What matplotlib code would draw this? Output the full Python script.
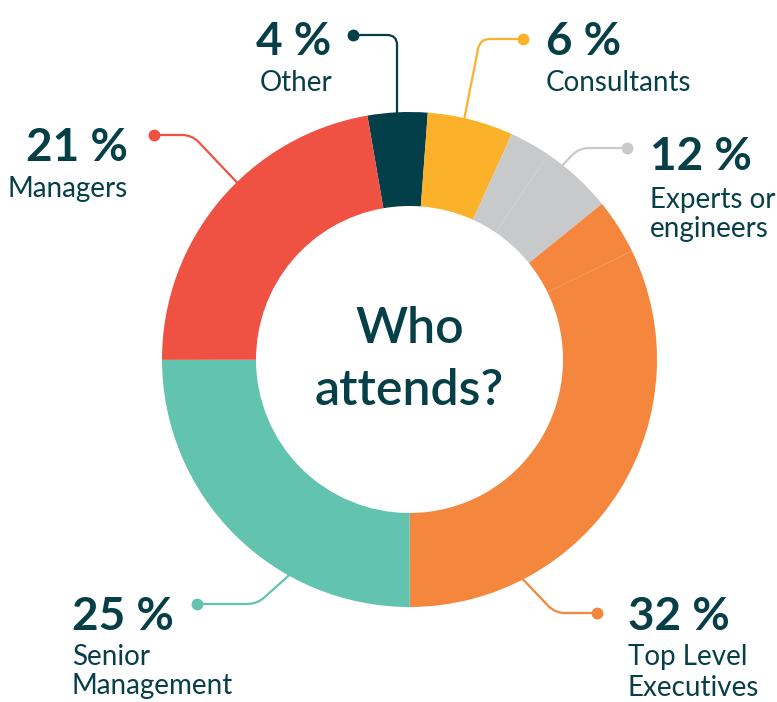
import matplotlib
matplotlib.use("Agg")
import matplotlib.pyplot as plt
from matplotlib.path import Path
from matplotlib.patches import PathPatch
import numpy as np

# ---------------- data ----------------
categories = ["Other", "Consultants", "Experts or\nengineers", "Top Level\nExecutives",
              "Senior\nManagement", "Managers"]
label_pct = [4, 6, 12, 32, 25, 21]

# ring segments as drawn (clockwise from the start of "Other")
segment_values = [3.9, 5.6, 2.7, 4.7, 3.6, 32.2, 25.0, 22.3]
segment_category = [0, 1, 2, 2, 3, 3, 4, 5]

cat_colors = ["#033f48", "#fbb12a", "#c8c9cb", "#f4863e", "#62c4ae", "#ef5143"]
TEXT = "#063f47"

W, H = 777, 702
fig = plt.figure(figsize=(W / 100, H / 100), dpi=100)
ax = fig.add_axes([0, 0, 1, 1])

def P(x, y):
    return (x, H - y)

cx, cy = P(409.5, 359.5)
R_OUT = 247.5
RING_W = 94

seg_colors = [cat_colors[c] for c in segment_category]
ax.pie(segment_values, colors=seg_colors, startangle=99.8, counterclock=False,
       radius=R_OUT, center=(cx, cy),
       wedgeprops=dict(width=RING_W, linewidth=0, edgecolor="none", zorder=3))

ax.set_xlim(0, W)
ax.set_ylim(0, H)
ax.set_aspect("equal")
ax.axis("off")

# ---------------- leader lines ----------------
def leader(dot, corner, end, color, r=10):
    d = np.array(P(*dot), float)
    c = np.array(P(*corner), float)
    e = np.array(P(*end), float)
    v1 = (c - d) / np.linalg.norm(c - d)
    v2 = (e - c) / np.linalg.norm(e - c)
    a = c - v1 * r
    b = c + v2 * r
    path = Path([d, a, c, b, e],
                [Path.MOVETO, Path.LINETO, Path.CURVE3, Path.CURVE3, Path.LINETO])
    ax.add_patch(PathPatch(path, fill=False, edgecolor=color, lw=1.6,
                           capstyle="round", joinstyle="round", zorder=1))
    ax.plot([d[0]], [d[1]], "o", color=color, markersize=7.5, zorder=4)

leaders = [
    ((353, 35), (397, 35), (397, 125)),
    ((523, 39), (480, 39), (463, 125)),
    ((627, 148), (579, 148), (555, 173)),
    ((597, 613), (555, 613), (515, 571)),
    ((197, 604), (257, 604), (296, 569)),
    ((154, 135), (192, 135), (246, 192)),
]
for i, (d, c, e) in enumerate(leaders):
    leader(d, c, e, cat_colors[i])

# ---------------- labels ----------------
NUM_FS = 33
LAB_FS = 20
num_font = dict(family="Lato", weight="bold", color=TEXT, fontsize=NUM_FS)
lab_font = dict(family="Lato", weight="normal", color=TEXT, fontsize=LAB_FS)

# (x, num_baseline, first label baseline, line step, ha)
label_pos = [
    (256, 55, 91, 30, "left"),
    (546, 55, 91, 30, "left"),
    (650, 170, 208, 29, "left"),
    (628, 630, 665, 31, "left"),
    (72, 630, 665, 29, "left"),
    (128, 161, 197, 30, "right"),
]
for i, (x, yb, yl, step, ha) in enumerate(label_pos):
    ax.text(*P(x, yb), f"{label_pct[i]} %", ha=ha, va="baseline", **num_font)
    for j, line in enumerate(categories[i].split("\n")):
        ax.text(*P(x + (4 if (i == 0) else 0), yl + j * step), line, ha=ha,
                va="baseline", **lab_font)

# center title
title_font = dict(family="Lato", weight="semibold", color=TEXT, fontsize=36)
ax.text(*P(cx, 343), "Who", ha="center", va="baseline", **title_font)
ax.text(*P(cx, 405), "attends?", ha="center", va="baseline", **title_font)

fig.savefig("out.png", dpi=100, facecolor="white")
